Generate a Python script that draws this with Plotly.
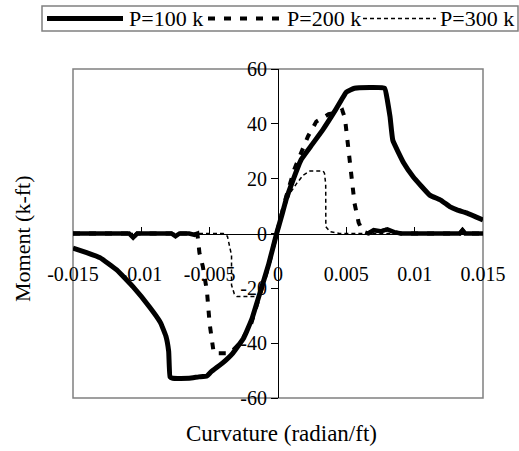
import plotly.graph_objects as go

# ---------------- data ----------------
curv_100 = [-0.0150, -0.0140, -0.0130, -0.0118, -0.0106, -0.0094, -0.0086, -0.0082, -0.0080,
            -0.0079, -0.0077, -0.0065, -0.0058, -0.0052, -0.0049, -0.0040, -0.0033, -0.0025,
            -0.0019, -0.0013, -0.0007, -0.0001, 0.0003, 0.0006, 0.0011, 0.0017, 0.0025, 0.0033,
            0.0042, 0.0050, 0.0056, 0.0078, 0.0080, 0.0082, 0.0084, 0.0092, 0.0099, 0.0111,
            0.0119, 0.0126, 0.0131, 0.0138, 0.0150]
mom_100 = [-5.3, -7.0, -8.9, -13.3, -19.5, -26.8, -32.5, -37.5, -43.0,
           -52.3, -52.8, -52.8, -52.3, -52.0, -50.5, -47.0, -43.6, -38.0,
           -31.0, -21.3, -11.5, 0.0, 7.0, 12.5, 19.5, 27.0, 32.5, 38.0,
           45.0, 51.6, 53.0, 53.0, 48.7, 42.5, 34.0, 25.7, 20.6, 14.0,
           12.2, 9.7, 8.6, 7.5, 4.9]

curv_200 = [-0.0150, -0.0125, -0.0109, -0.0106, -0.0103, -0.0090, -0.0078, -0.0075, -0.0072,
            -0.0065, -0.0061, -0.0059, -0.00575, -0.0055, -0.0052, -0.0050, -0.0048, -0.0047,
            -0.0035, -0.0028, -0.0020, -0.0013, -0.0007, -0.0001, 0.0006, 0.0012, 0.0017,
            0.0022, 0.0028, 0.0033, 0.0037, 0.0045, 0.0047, 0.0049, 0.00515, 0.0054, 0.0056,
            0.0059, 0.0062, 0.0066, 0.0070, 0.0075, 0.0080, 0.0085, 0.0090, 0.0110, 0.0133,
            0.0135, 0.0137, 0.0150]
mom_200 = [0.0, 0.0, 0.0, -1.5, 0.0, 0.0, 0.0, -1.0, 0.0,
           0.0, -0.5, 0.0, -7.0, -12.0, -21.0, -33.0, -40.0, -43.7,
           -43.7, -40.0, -33.5, -22.0, -12.0, 0.0, 13.5, 23.5, 30.0,
           35.5, 40.8, 42.5, 43.5, 44.4, 45.0, 42.0, 30.5, 18.3, 11.0,
           4.0, 0.7, 0.0, 1.2, 0.8, 1.5, 0.5, 0.0, 0.0, 0.0,
           1.2, 0.0, 0.0]

curv_300 = [-0.0150, -0.0100, -0.0060, -0.0040, -0.0037, -0.0035, -0.0034, -0.0034, -0.0032,
            -0.0030, -0.0013, -0.0009, -0.0004, 0.0000, 0.0004, 0.00088, 0.00137, 0.00185,
            0.00234, 0.0033, 0.0034, 0.00349, 0.0035, 0.0038, 0.0045, 0.0060, 0.0100, 0.0150]
mom_300 = [0.0, 0.0, 0.0, 0.0, -1.0, -5.0, -8.0, -18.8, -22.0,
           -23.0, -23.0, -16.0, -7.0, 0.0, 8.0, 14.7, 18.3, 21.3,
           22.8, 22.8, 22.0, 18.0, 2.5, 0.7, 0.0, 0.0, 0.0, 0.0]

series_names = ["P=100 k", "P=200 k", "P=300 k"]
x_ticks = [-0.015, -0.01, -0.005, 0, 0.005, 0.01, 0.015]
x_tick_text = ["-0.015", "-0.01", "-0.005", "0", "0.005", "0.01", "0.015"]
y_ticks = [-60, -40, -20, 0, 20, 40, 60]
y_tick_text = ["-60", "-40", "-20", "0", "20", "40", "60"]

# ---------------- geometry helpers ----------------
W, H = 519, 451
L, R, T, B = 73, 483, 69, 398


def px_x(p):
    return (p - L) / (R - L)


def px_y(p):
    return (B - p) / (B - T)


FONT = "Liberation Serif"
DASH200 = "7px,9px"
DOT300 = "4px,3px"

fig = go.Figure()

fig.add_trace(go.Scatter(x=curv_100, y=mom_100, mode="lines", name=series_names[0],
                         line=dict(color="black", width=5, shape="spline", smoothing=0.3),
                         showlegend=False))
fig.add_trace(go.Scatter(x=curv_200, y=mom_200, mode="lines", name=series_names[1],
                         line=dict(color="black", width=4, dash=DASH200), showlegend=False))
# densely sampled residual branches of P=200 render as continuous lines
neg_end = curv_200.index(-0.0059) + 1
pos_start = curv_200.index(0.0066)
fig.add_trace(go.Scatter(x=curv_200[:neg_end], y=mom_200[:neg_end], mode="lines",
                         line=dict(color="black", width=4.5), showlegend=False, hoverinfo="skip"))
fig.add_trace(go.Scatter(x=curv_200[pos_start:], y=mom_200[pos_start:], mode="lines",
                         line=dict(color="black", width=4.5), showlegend=False, hoverinfo="skip"))
fig.add_trace(go.Scatter(x=curv_300, y=mom_300, mode="lines", name=series_names[2],
                         line=dict(color="black", width=1.5, dash=DOT300), showlegend=False))

shapes = [
    # plot frame
    dict(type="rect", xref="paper", yref="paper", x0=0, x1=1, y0=0, y1=1,
         line=dict(color="#808080", width=1.5), layer="below"),
    # legend box
    dict(type="rect", xref="paper", yref="paper", x0=px_x(42), x1=px_x(518),
         y0=px_y(31), y1=px_y(6), line=dict(color="#808080", width=1.5)),
]
leg_y = px_y(18.5)
legend_items = [
    (47, 123, 127, dict(color="black", width=5)),
    (208, 283, 285, dict(color="black", width=4, dash=DASH200)),
    (363, 436, 438, dict(color="black", width=1.5, dash=DOT300)),
]
annotations = []
for (xa, xb, xt, ln), nm in zip(legend_items, series_names):
    shapes.append(dict(type="line", xref="paper", yref="paper", x0=px_x(xa), x1=px_x(xb),
                       y0=leg_y, y1=leg_y, line=ln))
    annotations.append(dict(text=nm, xref="paper", yref="paper", x=px_x(xt), y=leg_y,
                            xanchor="left", yanchor="middle", showarrow=False,
                            font=dict(family=FONT, size=22, color="black")))

annotations.append(dict(text="Curvature (radian/ft)", xref="paper", yref="paper",
                        x=px_x(281), y=px_y(434), xanchor="center", yanchor="middle",
                        showarrow=False, font=dict(family=FONT, size=23, color="black")))
annotations.append(dict(text="Moment (k-ft)", xref="paper", yref="paper",
                        x=px_x(22), y=px_y(239), xanchor="center", yanchor="middle",
                        textangle=-90, showarrow=False,
                        font=dict(family=FONT, size=22, color="black")))

fig.update_layout(
    width=W, height=H,
    margin=dict(l=L, r=W - R, t=T, b=H - B, pad=0),
    paper_bgcolor="white", plot_bgcolor="white",
    showlegend=False,
    font=dict(family=FONT, size=20, color="black"),
    xaxis=dict(range=[-0.015, 0.015], anchor="free", position=0.5,
               showline=True, linecolor="black", linewidth=1,
               ticks="inside", ticklen=7, tickcolor="black", tickwidth=1,
               tickvals=x_ticks, ticktext=x_tick_text,
               showgrid=False, zeroline=False, ticklabelstandoff=22,
               tickfont=dict(family=FONT, size=20, color="black")),
    yaxis=dict(range=[-60, 60], anchor="free", position=0.5,
               showline=True, linecolor="black", linewidth=1,
               ticks="outside", ticklen=7, tickcolor="black", tickwidth=1,
               tickvals=y_ticks, ticktext=y_tick_text,
               showgrid=False, zeroline=False,
               tickfont=dict(family=FONT, size=20, color="black")),
    shapes=shapes,
    annotations=annotations,
)

fig.write_html("out.html")
